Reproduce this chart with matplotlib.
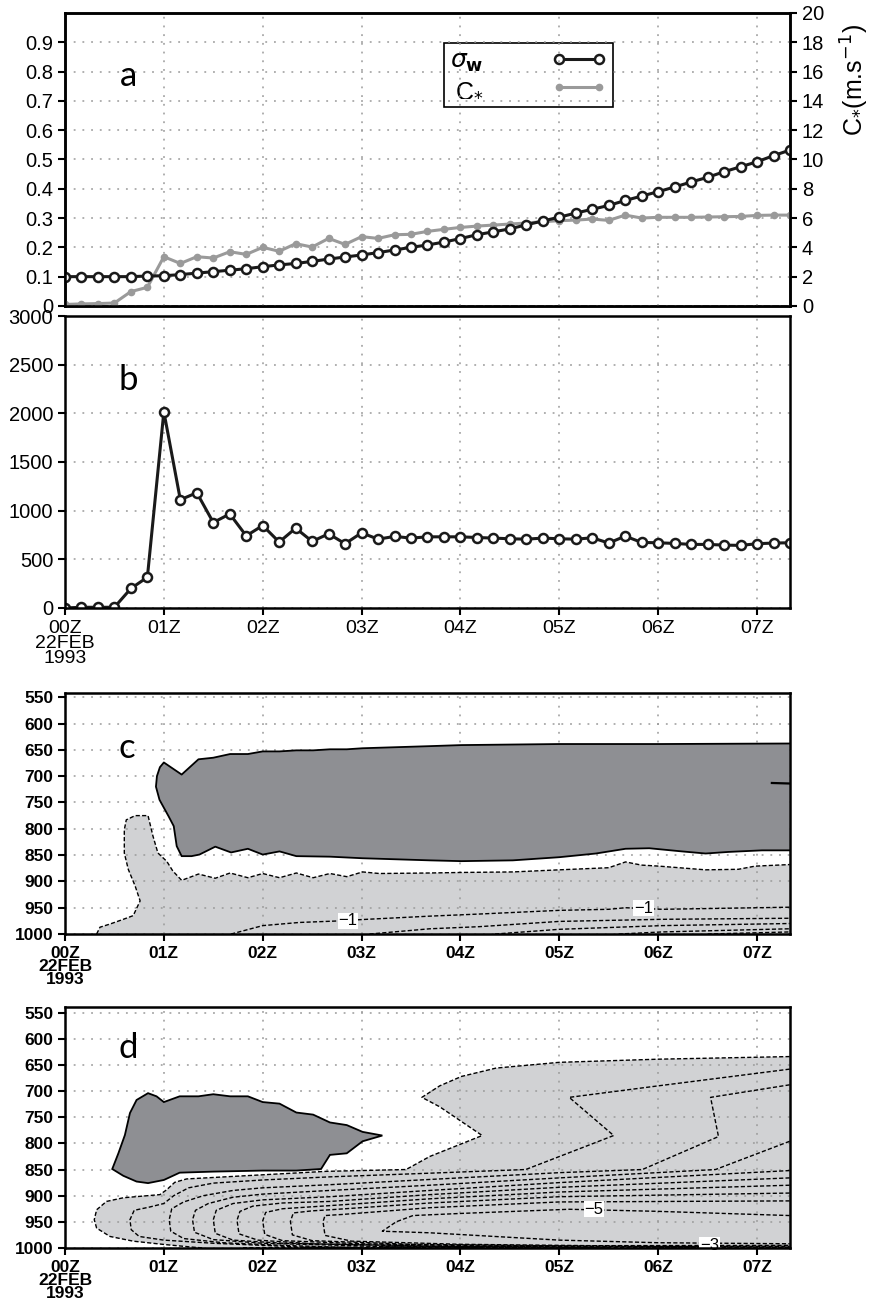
import numpy as np
import matplotlib
matplotlib.use('Agg')
import matplotlib.pyplot as plt
from matplotlib.lines import Line2D

plt.rcParams['font.family'] = ['Liberation Sans', 'DejaVu Sans']

# ---- time axis: 10 minute output, 00Z-07:20Z 22 Feb 1993 ----
minutes = np.arange(0, 450, 10)
hours = minutes / 60.0
T_END = 7.333
hour_ticks = [0, 1, 2, 3, 4, 5, 6, 7]
hour_labels = ['00Z\n22FEB\n1993', '01Z', '02Z', '03Z', '04Z', '05Z', '06Z', '07Z']

# ---- panel a ----
sigma_w = [0.100, 0.100, 0.100, 0.100, 0.100, 0.102, 0.103, 0.107, 0.112, 0.117,
           0.122, 0.127, 0.134, 0.140, 0.145, 0.152, 0.160, 0.167, 0.174, 0.182,
           0.191, 0.200, 0.208, 0.218, 0.230, 0.243, 0.253, 0.263, 0.277, 0.290,
           0.303, 0.317, 0.330, 0.343, 0.360, 0.375, 0.390, 0.406, 0.423, 0.439,
           0.458, 0.475, 0.492, 0.513, 0.532]
c_star = [0.10, 0.14, 0.16, 0.20, 0.98, 1.27, 3.36, 2.90, 3.36, 3.27,
          3.70, 3.52, 4.00, 3.73, 4.25, 4.02, 4.61, 4.20, 4.73, 4.61,
          4.86, 4.89, 5.09, 5.23, 5.36, 5.45, 5.52, 5.59, 5.66, 5.75,
          5.82, 5.86, 5.93, 5.84, 6.20, 6.00, 6.05, 6.05, 6.05, 6.07,
          6.09, 6.11, 6.18, 6.20, 6.20]

# ---- panel b ----
b_vals = [0, 7, 7, 7, 200, 316, 2017, 1112, 1184, 878,
          966, 741, 847, 677, 820, 684, 762, 660, 772, 707,
          735, 718, 731, 731, 731, 724, 718, 711, 707, 718,
          711, 707, 721, 667, 738, 673, 670, 663, 653, 653,
          646, 643, 660, 667, 670]

# ---- panel c (contours, time in h / pressure in hPa) ----
c_pos_t = [7.33, 7.05, 6.71, 6.48, 6.24, 5.91, 5.67, 5.37, 5.0, 4.53, 4.01, 3.69, 3.01,
           2.68, 2.34, 2.17, 2.0, 1.85, 1.68, 1.52, 1.36, 1.28, 1.18, 1.13, 1.10, 1.047,
           0.956, 0.92, 0.93, 0.96, 1.0, 1.18, 1.35, 1.5, 1.67, 1.85, 2.0, 2.17, 2.34,
           2.51, 2.68, 2.85, 3.01, 3.69, 4.01, 5.0, 6.01, 7.33]
c_pos_p = [841, 841, 844, 847, 843, 837, 838, 847, 854, 860, 861.5, 860, 856,
           853, 852, 843, 849, 838, 845, 834, 849, 852, 852, 833, 795, 776,
           745, 720, 700, 683, 674, 697, 668, 665, 658, 658, 653, 653, 651,
           651, 649, 649, 647, 643, 641, 639, 639, 638]
c_zero_t = [0.32, 0.354, 0.455, 0.59, 0.69, 0.76, 0.71, 0.64, 0.60, 0.60, 0.62, 0.71, 0.84,
            0.89, 0.94, 1.03, 1.09, 1.18, 1.35, 1.52, 1.67, 1.85, 2.0, 2.17, 2.34, 2.51,
            2.68, 2.85, 3.01, 3.18, 3.69, 4.01, 4.53, 5.0, 5.5, 5.67, 5.83, 6.01, 6.48,
            6.81, 6.98, 7.33]
c_zero_p = [1000, 987, 981, 972, 965, 937, 909, 877, 846, 802, 783, 775, 775,
            814, 846, 862, 880, 898, 886, 894, 884, 893, 885, 893, 884, 893,
            885, 891, 882, 885, 884, 883, 882, 878, 874, 863, 869, 871, 878,
            877, 871, 868]
c_neg_lines = [
    ([1.68, 2.0, 2.37, 2.78, 2.95, 3.69, 4.19, 5.0, 5.5, 5.67, 6.04, 7.33],
     [1000, 984, 978, 975, 973, 966, 962, 955, 953, 950, 953, 949]),
    ([3.08, 3.69, 4.19, 5.0, 6.04, 7.33], [1000, 990, 986, 976, 972, 970]),
    ([4.35, 5.0, 6.04, 7.33], [1000, 991, 984, 980]),
    ([5.6, 6.04, 7.33], [1000, 996, 990]),
    ([6.5, 7.33], [1000, 996]),
]
c_pos_stub_t = [7.15, 7.33]
c_pos_stub_p = [713, 714]
c_labels = [(2.86, 975, '\u22121'), (5.85, 951, '\u22121')]

# ---- panel d ----
d_pos_t = [0.478, 0.54, 0.606, 0.657, 0.724, 0.84, 0.926, 1.0, 1.16, 1.35, 1.5, 1.67,
           1.85, 2.0, 2.17, 2.34, 2.51, 2.68, 2.85, 3.01, 3.21, 3.01, 2.85, 2.68,
           2.59, 2.34, 2.0, 1.5, 1.16, 1.0, 0.84, 0.724, 0.59]
d_pos_p = [849, 819, 784, 742, 717, 704, 710, 721, 710, 710, 706, 710,
           710, 721, 724, 741, 745, 760, 765, 778, 785, 796, 819, 822,
           849, 852, 852, 854, 856, 870, 876, 873, 862]
d_zero_t = [7.33, 6.0, 5.0, 4.36, 4.01, 3.79, 3.61, 3.79, 4.22, 3.69, 3.45, 2.64, 1.23,
            1.11, 1.03, 0.96, 0.59, 0.42, 0.32, 0.296, 0.32, 0.455, 0.69, 1.01, 1.30, 1.40]
d_zero_p = [634, 639, 645, 656, 672, 690, 712, 730, 785, 825, 850, 853.5, 868,
            874.5, 888.5, 898, 904, 911, 927, 946, 962, 978, 987, 993.5, 998.6, 1000]
d_neg_lines = [
    ([7.33, 6.0, 5.1, 5.55, 4.66, 3.69, 2.68, 2.0, 1.5, 1.25, 1.1, 1.0, 0.85, 0.70, 0.657,
      0.67, 0.75, 1.0, 1.5, 2.0, 2.6],
     [658, 690, 712, 785, 850, 857, 864, 870, 876, 885, 900, 915, 922, 928, 946,
      965, 978, 985, 991, 995, 1000]),
    ([7.33, 6.53, 6.61, 5.84, 5.0, 3.69, 2.68, 2.0, 1.7, 1.4, 1.2, 1.08, 1.054,
      1.07, 1.2, 1.6, 2.2, 3.0],
     [688, 712, 787, 850, 856, 869, 879, 885, 890, 900, 912, 925, 946,
      968, 982, 990, 995, 1000]),
    ([7.33, 6.58, 5.0, 3.69, 2.68, 2.0, 1.7, 1.45, 1.32, 1.29,
      1.31, 1.5, 2.0, 3.0, 3.6],
     [796, 850, 866, 880, 890, 897, 903, 915, 928, 946,
      970, 984, 991, 996, 1000]),
    ([7.33, 5.0, 3.69, 2.68, 2.0, 1.7, 1.53, 1.50, 1.52, 1.7, 2.2, 3.5, 4.2],
     [852, 875, 890, 902, 908, 915, 928, 946, 972, 985, 991, 996, 1000]),
    ([7.33, 5.0, 3.69, 2.68, 2.2, 1.9, 1.77, 1.74, 1.76, 1.95, 2.5, 4.0, 4.8],
     [866, 884, 898, 911, 914, 920, 930, 947, 973, 985, 992, 997, 1000]),
    ([7.33, 5.0, 3.69, 2.68, 2.2, 2.03, 2.0, 2.02, 2.2, 3.0, 4.5, 5.5],
     [880, 893, 906, 919, 925, 932, 948, 974, 986, 992, 997, 1000]),
    ([7.33, 5.0, 3.69, 2.68, 2.5, 2.31, 2.28, 2.30, 2.5, 3.5, 5.5, 6.5],
     [895, 902, 914, 927, 929, 933, 949, 975, 986, 993, 997, 1000]),
    ([7.33, 5.0, 3.69, 2.8, 2.63, 2.61, 2.63, 2.9, 4.0, 6.0, 7.33],
     [910, 912, 923, 936, 938, 950, 976, 987, 993, 997, 999]),
    ([7.33, 6.0, 5.1, 4.0, 3.52, 3.35, 3.21, 3.69, 5.0, 6.0, 7.33],
     [938, 930, 926, 934, 938, 950, 968, 971, 985, 990, 992]),
    ([1.8, 3.0, 5.0, 7.33], [999.6, 999.2, 998.8, 998.5]),
    ([2.4, 4.0, 7.33], [998.8, 997.6, 996.8]),
    ([3.2, 5.0, 7.33], [998.0, 995.8, 995.0]),
]
d_labels = [(5.35, 925.5, '\u22125'), (6.52, 994.5, '\u22123')]

DARK = '#8e8f93'
LIGHT = '#d1d2d4'
GRIDC = '#9a9a9a'
SPINE_W = 1.8
DASH = (0, (3.0, 1.6))


def style_axes(ax, ylab_size=14.5, xlab_size=14):
    for s in ax.spines.values():
        s.set_linewidth(SPINE_W)
        s.set_zorder(6)
    ax.set_xlim(0, T_END)
    ax.set_xticks(hour_ticks)
    ax.tick_params(direction='out', length=5, width=1.5)
    ax.tick_params(axis='y', labelsize=ylab_size)
    ax.tick_params(axis='x', labelsize=xlab_size)
    ax.grid(True, color=GRIDC, linestyle=(0, (1.2, 4.5)), linewidth=1.1)
    ax.set_axisbelow('line')


def set_hour_labels(ax, bold=False):
    ax.set_xticklabels(hour_labels)
    for lab in ax.get_xticklabels():
        lab.set_linespacing(0.85)
        if bold:
            lab.set_fontweight('bold')
    if bold:
        for lab in ax.get_yticklabels():
            lab.set_fontweight('bold')


def panel_letter(ax, letter, x, y):
    ax.text(x, y, letter, transform=ax.transAxes, fontsize=25, color='black',
            family=['Lato', 'DejaVu Sans'], fontweight='normal',
            va='center', ha='center', zorder=7)


fig = plt.figure(figsize=(8.7, 13.08), dpi=100)
L, W = 0.0747, 0.8333

# ================= a =================
ax_a = fig.add_axes([L, 0.7661, W, 0.2240])
ax_a2 = ax_a.twinx()
ax_a2.plot(hours, c_star, color='#9a9a9a', lw=2.2, marker='o', ms=4.5,
           mfc='#9a9a9a', mec='#9a9a9a', zorder=3)
ax_a.plot(hours, sigma_w, color='#1a1a1a', lw=2.2, marker='o', ms=6.5,
          mfc='white', mec='#1a1a1a', mew=1.8, zorder=4)
ax_a.set_zorder(ax_a2.get_zorder() + 1)
ax_a.patch.set_visible(False)
ax_a.set_ylim(0, 1.0)
ax_a.set_yticks(np.arange(0, 1.0, 0.1))
ax_a.set_yticklabels(['0', '0.1', '0.2', '0.3', '0.4', '0.5', '0.6', '0.7', '0.8', '0.9'])
ax_a2.set_ylim(0, 20)
ax_a2.set_yticks(np.arange(0, 21, 2))
style_axes(ax_a)
ax_a.tick_params(axis='x', length=0, labelbottom=False)
ax_a2.tick_params(direction='out', length=5, width=1.5, labelsize=14.5)
for s in ax_a2.spines.values():
    s.set_linewidth(SPINE_W)
ax_a2.text(1.09, 0.77, 'C$_{*}$(m.s$^{-1}$)', transform=ax_a2.transAxes,
           rotation=90, fontsize=18, ha='center', va='center')
panel_letter(ax_a, 'a', 0.087, 0.785)
handles = [Line2D([], [], color='#1a1a1a', lw=2.2, marker='o', ms=6.5, mfc='white',
                  mec='#1a1a1a', mew=1.8),
           Line2D([], [], color='#9a9a9a', lw=2.2, marker='o', ms=4.5, mfc='#9a9a9a',
                  mec='#9a9a9a')]
leg = ax_a2.legend(handles, [r'$\sigma_{\mathbf{w}}$', r'C$_{*}$'], loc='upper left',
                   bbox_to_anchor=(0.523, 0.898), borderaxespad=0, markerfirst=False,
                   numpoints=2, fontsize=18, handlelength=2.2, handletextpad=2.7,
                   borderpad=0.25, labelspacing=0.1, fancybox=False, framealpha=1,
                   edgecolor='black')
leg.get_frame().set_linewidth(1.2)

# ================= b =================
ax_b = fig.add_axes([L, 0.5352, W, 0.2232])
ax_b.plot(hours, b_vals, color='#1a1a1a', lw=2.2, marker='o', ms=6.5,
          mfc='white', mec='#1a1a1a', mew=1.8, zorder=4)
ax_b.set_ylim(0, 3000)
ax_b.set_yticks(np.arange(0, 3001, 500))
style_axes(ax_b)
set_hour_labels(ax_b)
panel_letter(ax_b, 'b', 0.087, 0.78)

# ================= c =================
ax_c = fig.add_axes([L, 0.2859, W, 0.1843])
ax_c.fill(c_zero_t + [T_END], c_zero_p + [1000], color=LIGHT, lw=0, zorder=1)
ax_c.plot(c_zero_t, c_zero_p, color='k', lw=1.0, ls=DASH, zorder=3)
ax_c.fill(c_pos_t, c_pos_p, color=DARK, lw=0, zorder=2)
ax_c.plot(c_pos_t, c_pos_p, color='k', lw=1.3, zorder=3)
ax_c.plot(c_pos_stub_t, c_pos_stub_p, color='k', lw=1.6, zorder=3)
for tt, pp in c_neg_lines:
    ax_c.plot(tt, pp, color='k', lw=1.0, ls=DASH, zorder=3)
for tt, pp, s in c_labels:
    ax_c.text(tt, pp, s, fontsize=12, ha='center', va='center', zorder=5,
              bbox=dict(facecolor='white', edgecolor='none', pad=0.5))
ax_c.set_ylim(1000, 542)
ax_c.set_yticks(np.arange(550, 1001, 50))
style_axes(ax_c, ylab_size=12.5, xlab_size=12.5)
set_hour_labels(ax_c, bold=True)
panel_letter(ax_c, 'c', 0.085, 0.77)

# ================= d =================
ax_d = fig.add_axes([L, 0.0459, W, 0.1843])
ax_d.fill(d_zero_t + [T_END], d_zero_p + [1000], color=LIGHT, lw=0, zorder=1)
ax_d.plot(d_zero_t, d_zero_p, color='k', lw=1.0, ls=DASH, zorder=3)
ax_d.fill(d_pos_t, d_pos_p, facecolor=DARK, edgecolor='k', lw=1.3, zorder=2)
for tt, pp in d_neg_lines:
    ax_d.plot(tt, pp, color='k', lw=1.0, ls=DASH, zorder=3)
for tt, pp, s in d_labels:
    ax_d.text(tt, pp, s, fontsize=12, ha='center', va='center', zorder=5,
              bbox=dict(facecolor='white', edgecolor='none', pad=0.5))
ax_d.set_ylim(1000, 539)
ax_d.set_yticks(np.arange(550, 1001, 50))
style_axes(ax_d, ylab_size=12.5, xlab_size=12.5)
set_hour_labels(ax_d, bold=True)
panel_letter(ax_d, 'd', 0.087, 0.83)

fig.savefig('out.png', dpi=100)
